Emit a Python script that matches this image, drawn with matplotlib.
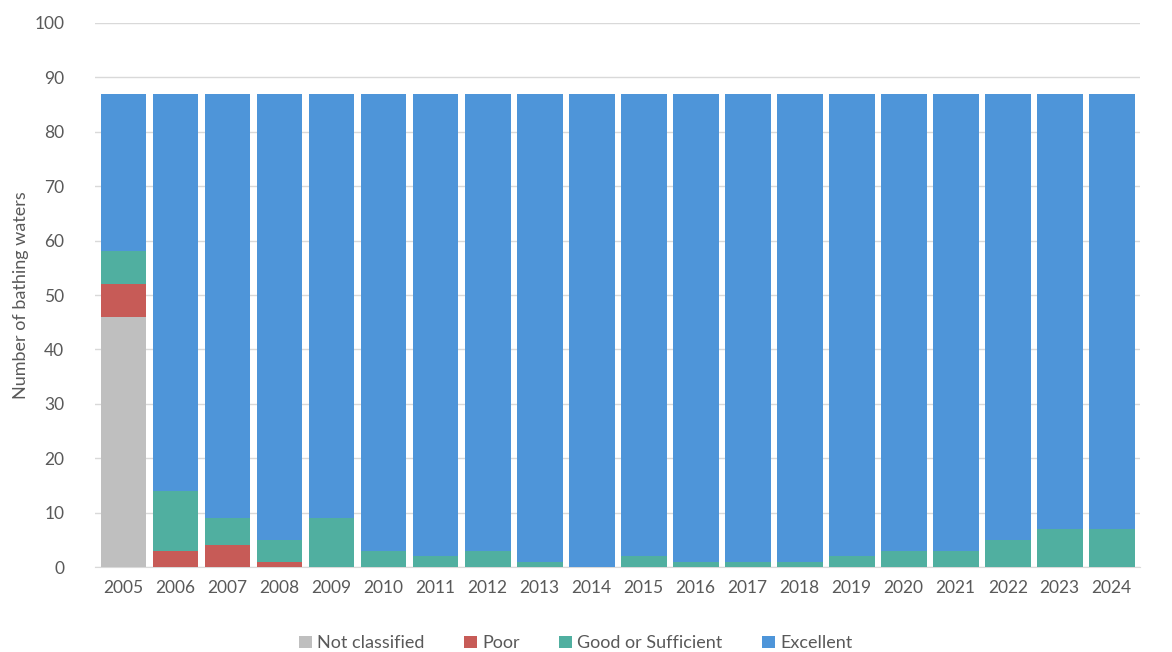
import matplotlib
matplotlib.use("Agg")
import matplotlib.pyplot as plt
import numpy as np

years = [str(y) for y in range(2005, 2025)]
not_classified = [46, 0, 0, 0, 0, 0, 0, 0, 0, 0, 0, 0, 0, 0, 0, 0, 0, 0, 0, 0]
poor = [6, 3, 4, 1, 0, 0, 0, 0, 0, 0, 0, 0, 0, 0, 0, 0, 0, 0, 0, 0]
good_sufficient = [6, 11, 5, 4, 9, 3, 2, 3, 1, 0, 2, 1, 1, 1, 2, 3, 3, 5, 7, 7]
excellent = [29, 73, 78, 82, 78, 84, 85, 84, 86, 87, 85, 86, 86, 86, 85, 84, 84, 82, 80, 80]

plt.rcParams['font.family'] = ['Lato', 'DejaVu Sans']

fig = plt.figure(figsize=(11.72, 6.52), dpi=100)
ax = fig.add_axes([0.081, 0.130, 0.892, 0.835])

x = np.arange(len(years))
w = 0.88
bottom = np.zeros(len(years))
series = [
    (not_classified, '#BFBFBF', 'Not classified'),
    (poor, '#C75B57', 'Poor'),
    (good_sufficient, '#50AFA0', 'Good or Sufficient'),
    (excellent, '#4E95D9', 'Excellent'),
]
for vals, col, lab in series:
    ax.bar(x, vals, w, bottom=bottom, color=col, label=lab, zorder=3)
    bottom += np.array(vals)

ax.set_ylim(0, 100)
ax.set_xlim(-0.55, len(years) - 0.45)
ax.set_yticks(range(0, 101, 10))
ax.set_xticks(x)
ax.set_xticklabels(years)
ax.grid(axis='y', color='#D9D9D9', linewidth=1, zorder=0)
for s in ['top', 'right', 'left']:
    ax.spines[s].set_visible(False)
ax.spines['bottom'].set_color('#D9D9D9')
ax.tick_params(axis='both', length=0, colors='#595959', labelsize=12.5)
ax.tick_params(axis='y', pad=22)
ax.tick_params(axis='x', pad=9)
ax.set_ylabel('Number of bathing waters', fontsize=13, color='#595959', labelpad=4)

ax.legend(loc='upper center', bbox_to_anchor=(0.46, -0.095), ncol=4, frameon=False,
          fontsize=13, labelcolor='#595959', handlelength=0.7, handleheight=0.7,
          handletextpad=0.3, columnspacing=2.2)

fig.savefig('out.png', dpi=100)
